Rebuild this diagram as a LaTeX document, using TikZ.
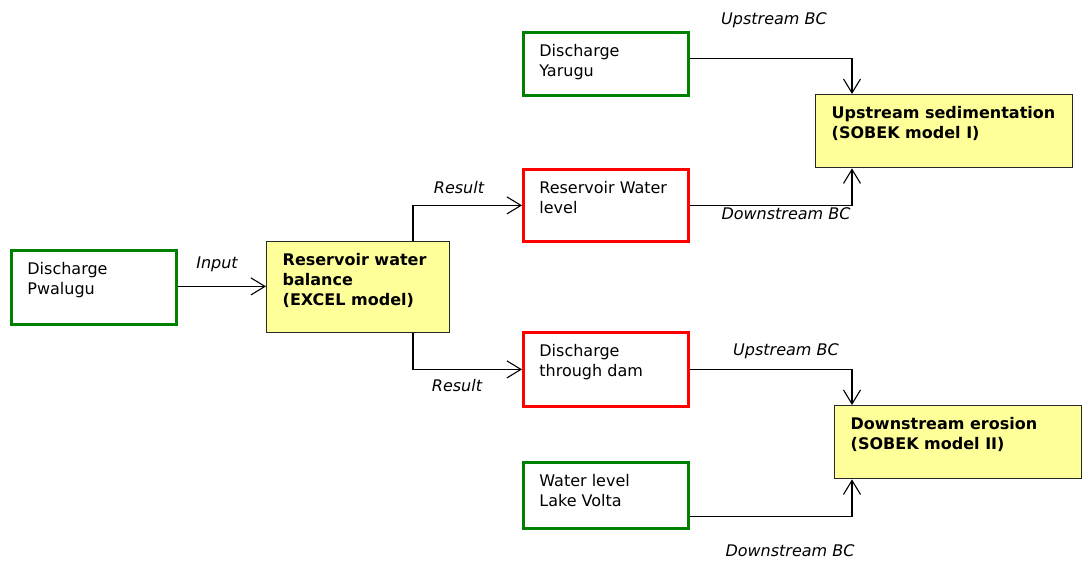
\documentclass[tikz,border=0pt]{standalone}
\usepackage{fontspec}
\setmainfont{DejaVu Sans}
\usetikzlibrary{arrows.meta}
\definecolor{boxgreen}{RGB}{0,128,0}
\definecolor{boxred}{RGB}{255,0,0}
\definecolor{modelfill}{RGB}{255,255,153}
\definecolor{modeledge}{RGB}{40,40,40}
% box body: fixed width and height, text hung from the top
\newcommand{\cellbody}[3]{\parbox[c][#2][t]{#1}{\raggedright\vspace*{12pt}#3}}
\begin{document}
\begin{tikzpicture}[x=1pt, y=-1pt,
  font=\fontsize{16}{20}\selectfont,
  box/.style={anchor=north west, inner xsep=16pt, inner ysep=0pt},
  datain/.style={box, draw=boxgreen, line width=2.8pt},
  dataout/.style={box, draw=boxred, line width=2.8pt},
  model/.style={box, draw=modeledge, fill=modelfill, line width=1.4pt, font=\fontsize{16}{20}\selectfont\bfseries},
  link/.style={line width=1.1pt, -{Straight Barb[length=14pt, width=17pt, line width=1.1pt]}},
  tag/.style={font=\fontsize{16}{20}\selectfont\itshape}]
\useasboundingbox (0,0) rectangle (1082,562);

% input and output boxes
\node[datain] (pwa) at (10,249) {\cellbody{133pt}{74pt}{Discharge\\Pwalugu}};
\node[datain] (yar) at (522,31) {\cellbody{133pt}{63pt}{Discharge\\Yarugu}};
\node[dataout] (lvl) at (522,168) {\cellbody{133pt}{72pt}{Reservoir Water\\level}};
\node[dataout] (dam) at (522,331) {\cellbody{133pt}{74pt}{Discharge\\through dam}};
\node[datain] (vol) at (522,461) {\cellbody{133pt}{66pt}{Water level\\Lake Volta}};

% model boxes
\node[model] (bal) at (266,241) {\cellbody{151pt}{91pt}{Reservoir water\\balance\\(EXCEL model)}};
\node[model] (sed) at (815,94) {\cellbody{225pt}{73pt}{Upstream sedimentation\\(SOBEK model I)}};
\node[model] (ero) at (834,405) {\cellbody{215pt}{73pt}{Downstream erosion\\(SOBEK model II)}};

% connectors
\draw[link] ([yshift=1pt]pwa.east) -- ([yshift=1pt]pwa.east -| bal.west);
\draw[link] (bal.north -| 413,0) |- (lvl.west);
\draw[link] (bal.south -| 413,0) |- (dam.west);
\draw[link] ([yshift=5.5pt]yar.east) -| (sed.north -| 852,0);
\draw[link] (lvl.east) -| (sed.south -| 852,0);
\draw[link] (dam.east) -| (ero.north -| 852,0);
\draw[link] ([yshift=-21pt]vol.east) -| (ero.south -| 852,0);

% connector labels
\node[tag] (tin) at (217,264) {Input};
\node[tag] (tr1) at (459,188) {Result};
\node[tag] (tr2) at (457,386) {Result};
\node[tag] (tu1) at (774,20) {Upstream BC};
\node[tag] (td1) at (786,214) {Downstream BC};
\node[tag] (tu2) at (786,351) {Upstream BC};
\node[tag] (td2) at (790,551) {Downstream BC};
\end{tikzpicture}
\end{document}
